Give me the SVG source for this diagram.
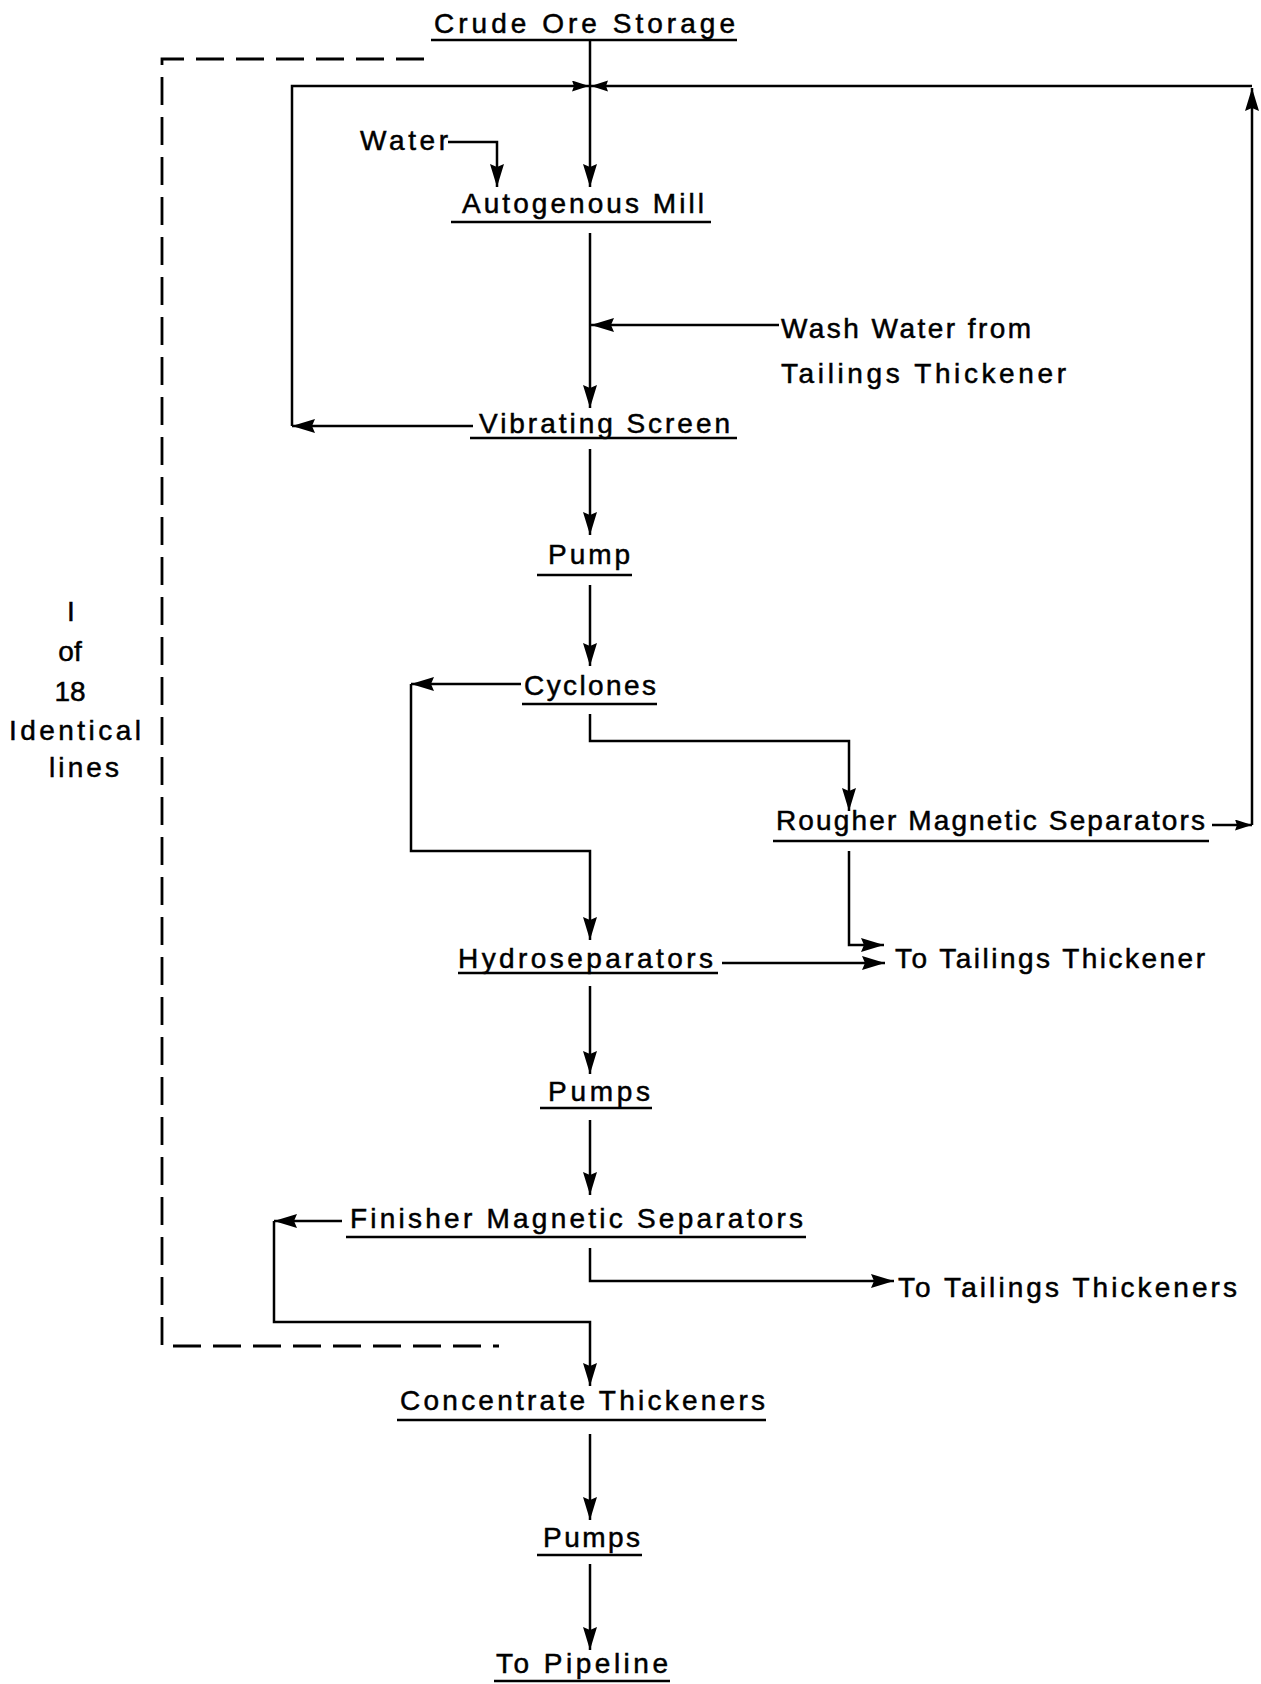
<svg xmlns="http://www.w3.org/2000/svg" width="1261" height="1684" viewBox="0 0 1261 1684">
<defs>
<marker id="big" markerUnits="userSpaceOnUse" markerWidth="26" markerHeight="16" refX="23" refY="7" orient="auto"><path d="M0,0 L23,7 L0,14 L3,7 z" fill="#000"/></marker>
<marker id="small" markerUnits="userSpaceOnUse" markerWidth="20" markerHeight="12" refX="17" refY="5.5" orient="auto"><path d="M0,0 L17,5.5 L0,11 L2,5.5 z" fill="#000"/></marker>
<style>
text{font-family:"Liberation Sans",Arial,sans-serif;font-size:28px;fill:#000;stroke:#000;stroke-width:0.5}
.ul{stroke:#000;stroke-width:2.6;fill:none}
.c{stroke:#000;stroke-width:2.5;fill:none}
.a{marker-end:url(#big)}
.s{marker-end:url(#small)}
.dash{stroke:#000;stroke-width:2.8;fill:none;stroke-dasharray:28 12}
.side{text-anchor:middle;font-size:28px}
</style>
</defs>
<rect width="1261" height="1684" fill="#fff"/>
<g id="boundary">
<path class="dash" d="M424 59 H162 V1346 H499"/>
<text class="side" x="71" y="621">I</text>
<text class="side" x="70" y="661">of</text>
<text class="side" x="70" y="701">18</text>
<text class="side" x="75" y="740" textLength="132" lengthAdjust="spacing">Identical</text>
<text class="side" x="84" y="777" textLength="70" lengthAdjust="spacing">lines</text>
</g>
<g id="connectors">
<path class="c a" d="M590 40 V187"/>
<path class="c a" d="M473 426 H292"/>
<path class="c s" d="M292 426 V86 H589"/>
<path class="c s" d="M1212 825 H1252"/>
<path class="c a" d="M1252 825 V88"/>
<path class="c s" d="M1252 86 H591"/>
<path class="c a" d="M448 142 H497 V187"/>
<path class="c a" d="M590 233 V408"/>
<path class="c a" d="M779 325 H591"/>
<path class="c a" d="M590 449 V535"/>
<path class="c a" d="M590 585 V666"/>
<path class="c a" d="M521 684 H411"/>
<path class="c a" d="M411 684 V851 H590 V940"/>
<path class="c a" d="M590 714 V741 H849 V811"/>
<path class="c a" d="M849 851 V945 H884"/>
<path class="c a" d="M722 963 H885"/>
<path class="c a" d="M590 986 V1074"/>
<path class="c a" d="M590 1120 V1195"/>
<path class="c a" d="M342 1221 H274"/>
<path class="c a" d="M274 1221 V1322 H590 V1386"/>
<path class="c a" d="M590 1248 V1281 H894"/>
<path class="c a" d="M590 1434 V1520"/>
<path class="c a" d="M590 1564 V1650"/>
</g>
<g id="crude-ore-storage"><text x="434" y="33" textLength="301" lengthAdjust="spacing">Crude Ore Storage</text><line class="ul" x1="431" y1="40" x2="737" y2="40"/></g>
<g id="water"><text x="360" y="150" textLength="88" lengthAdjust="spacing">Water</text></g>
<g id="autogenous-mill"><text x="462" y="213" textLength="242" lengthAdjust="spacing">Autogenous Mill</text><line class="ul" x1="451" y1="222" x2="711" y2="222"/></g>
<g id="wash-water"><text x="781" y="338" textLength="250" lengthAdjust="spacing">Wash Water from</text><text x="781" y="383" textLength="285" lengthAdjust="spacing">Tailings Thickener</text></g>
<g id="vibrating-screen"><text x="479" y="433" textLength="251" lengthAdjust="spacing">Vibrating Screen</text><line class="ul" x1="470" y1="438" x2="737" y2="438"/></g>
<g id="pump"><text x="548" y="564" textLength="82" lengthAdjust="spacing">Pump</text><line class="ul" x1="537" y1="575" x2="632" y2="575"/></g>
<g id="cyclones"><text x="524" y="695" textLength="132" lengthAdjust="spacing">Cyclones</text><line class="ul" x1="522" y1="704" x2="657" y2="704"/></g>
<g id="rougher"><text x="776" y="830" textLength="429" lengthAdjust="spacing">Rougher Magnetic Separators</text><line class="ul" x1="773" y1="841" x2="1209" y2="841"/></g>
<g id="hydroseparators"><text x="458" y="968" textLength="255" lengthAdjust="spacing">Hydroseparators</text><line class="ul" x1="458" y1="973" x2="718" y2="973"/></g>
<g id="to-tailings-thickener"><text x="895" y="968" textLength="310" lengthAdjust="spacing">To Tailings Thickener</text></g>
<g id="pumps-1"><text x="548" y="1101" textLength="102" lengthAdjust="spacing">Pumps</text><line class="ul" x1="540" y1="1108" x2="652" y2="1108"/></g>
<g id="finisher"><text x="350" y="1228" textLength="453" lengthAdjust="spacing">Finisher Magnetic Separators</text><line class="ul" x1="346" y1="1237" x2="806" y2="1237"/></g>
<g id="to-tailings-thickeners"><text x="898" y="1297" textLength="339" lengthAdjust="spacing">To Tailings Thickeners</text></g>
<g id="concentrate-thickeners"><text x="400" y="1410" textLength="365" lengthAdjust="spacing">Concentrate Thickeners</text><line class="ul" x1="397" y1="1420" x2="766" y2="1420"/></g>
<g id="pumps-2"><text x="543" y="1547" textLength="97" lengthAdjust="spacing">Pumps</text><line class="ul" x1="537" y1="1555" x2="642" y2="1555"/></g>
<g id="to-pipeline"><text x="496" y="1673" textLength="172" lengthAdjust="spacing">To Pipeline</text><line class="ul" x1="494" y1="1681" x2="670" y2="1681"/></g>
</svg>
